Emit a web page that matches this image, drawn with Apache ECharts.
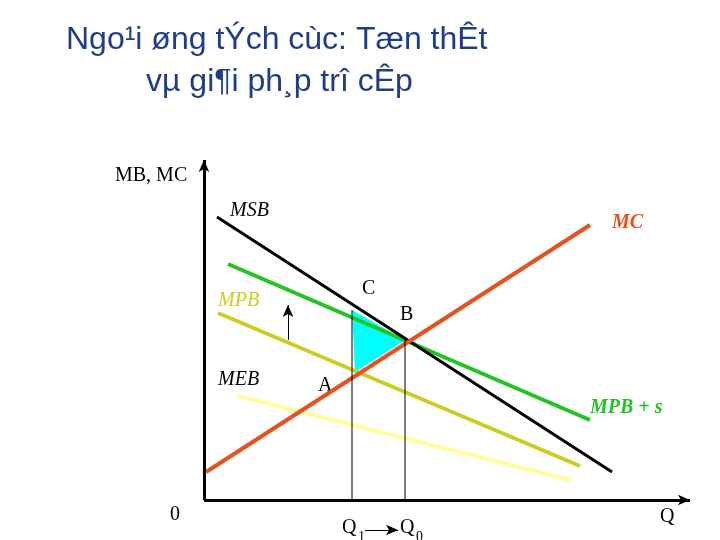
<!DOCTYPE html>
<html><head><meta charset="utf-8">
<script src="https://cdn.jsdelivr.net/npm/echarts@6/dist/echarts.min.js"></script>
<style>html,body{margin:0;background:#fff}#c{width:720px;height:540px}</style>
</head><body><div id="c"></div>
<script>
// Coordinates: x = quantity units, y = MB/MC units (origin at axis corner)
const msb = [[13,283],[408,28]];
const mc = [[2,28],[386,275]];
const mpbS = [[24,236],[386,80]];
const mpb = [[14,187],[376,34]];
const meb = [[34,104],[366,20]];
const loss = [[148,190],[201,160],[151,128]];
const q1Line = [[148,0],[148,190]];
const q0Line = [[201,0],[201,160]];
const shiftArrow = [[84,160],[84,195]];
const qArrow = [[161,-30],[194,-30]];

const chart = echarts.init(document.getElementById('c'));
const line = (d,color,w)=>({type:'line',data:d,symbol:'none',lineStyle:{color:color,width:w},silent:true,animation:false});
const arrowLine = (d,w)=>({type:'line',data:[],silent:true,animation:false,
  markLine:{silent:true,symbol:['none','arrow'],symbolSize:[8,12],label:{show:false},
  lineStyle:{color:'#000',width:w,type:'solid'},data:[[{coord:d[0]},{coord:d[1]}]]}});
const T = (x,y,t,o)=>Object.assign({type:'text',left:x,top:y,style:Object.assign({text:t,fill:'#000',font:'20px "Liberation Serif"'},o||{})});
chart.setOption({
  animation:false,
  grid:{left:204,right:20,top:0,bottom:0},
  xAxis:{type:'value',min:0,max:496,show:false},
  yAxis:{type:'value',min:-40,max:500,show:false},
  series:[
    {type:'custom',renderItem:(p,api)=>({type:'polygon',shape:{points:loss.map(v=>api.coord(v))},style:{fill:'#00FFFF'}}),data:[0],silent:true},
    line(meb,'#FFFF99',4),
    line(mpb,'#CCCC22',4),
    line(mpbS,'#22C322',4),
    line(msb,'#000',3),
    line(mc,'#E8501E',4),
    line(q1Line,'#000',1),
    line(q0Line,'#000',1),
    arrowLine([[0,0],[0,340]],3),
    arrowLine([[0,0],[486,0]],3),
    arrowLine(shiftArrow,1),
    arrowLine(qArrow,1)
  ],
  graphic:[
    {type:'text',left:66,top:24,style:{text:'Ngo¹i øng tÝch cùc: Tæn thÊt',fill:'#1F3C88',font:'32px "Liberation Sans"'}},
    {type:'text',left:146,top:66,style:{text:'vµ gi¶i ph¸p trî cÊp',fill:'#1F3C88',font:'32px "Liberation Sans"'}},
    T(115,166,'MB, MC'),
    T(230,201,'MSB',{font:'italic 20px "Liberation Serif"'}),
    T(612,213,'MC',{font:'italic bold 20px "Liberation Serif"',fill:'#E8501E'}),
    T(218,291,'MPB',{font:'italic 20px "Liberation Serif"',fill:'#CCCC22'}),
    T(362,279,'C'),
    T(400,305,'B'),
    T(218,370,'MEB',{font:'italic 20px "Liberation Serif"'}),
    T(318,376,'A'),
    T(590,398,'MPB + s',{font:'italic bold 20px "Liberation Serif"',fill:'#22C322'}),
    T(170,505,'0'),
    T(342,518,'Q',{}),{type:'text',left:358,top:530,style:{text:'1',font:'14px "Liberation Serif"',fill:'#000'}},
    T(400,518,'Q'),{type:'text',left:416,top:530,style:{text:'0',font:'14px "Liberation Serif"',fill:'#000'}},
    T(660,507,'Q')
  ]
});
</script></body></html>
